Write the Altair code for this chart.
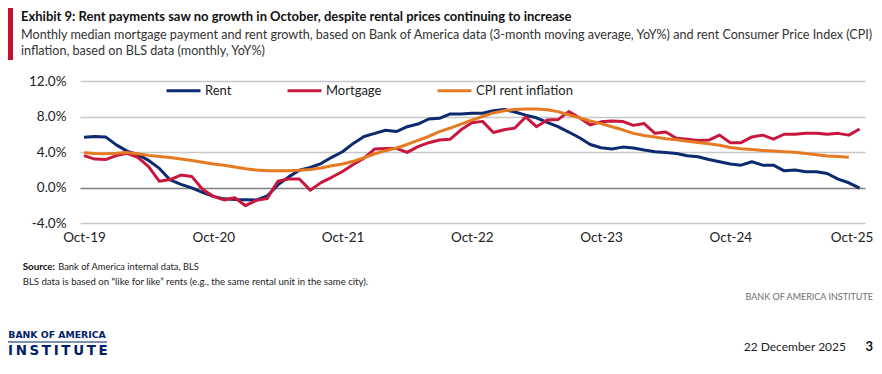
import altair as alt
import pandas as pd

# ---------------- data ----------------
series_names = ["Rent", "Mortgage", "CPI rent inflation"]
series_colors = ["#0B2A6F", "#C8173E", "#E67A22"]

x_tick_values = [0, 12, 24, 36, 48, 60, 72]
x_tick_labels = ["Oct-19", "Oct-20", "Oct-21", "Oct-22", "Oct-23", "Oct-24", "Oct-25"]
y_tick_values = [-4, 0, 4, 8, 12]

# months since Oct-2019 (0 = Oct-19 ... 72 = Oct-25)
rent = [5.65, 5.75, 5.7, 4.8, 4.1, 3.7, 3.05, 2.15, 0.85, 0.35,
        -0.05, -0.55, -1.0, -1.28, -1.35, -1.38, -1.42, -0.95, 0.3, 1.2,
        1.95, 2.25, 2.7, 3.4, 4.03, 4.97, 5.75, 6.1, 6.45, 6.3,
        6.85, 7.15, 7.72, 7.8, 8.29, 8.29, 8.36, 8.36, 8.66, 8.8,
        8.5, 8.15, 7.85, 7.35, 6.85, 6.25, 5.6, 4.85, 4.48, 4.33,
        4.55, 4.45, 4.22, 4.03, 3.95, 3.84, 3.58, 3.47, 3.16, 2.9,
        2.64, 2.52, 2.9, 2.52, 2.52, 1.88, 1.96, 1.77, 1.77, 1.58,
        0.94, 0.53, -0.08]
mortgage = [3.6, 3.2, 3.15, 3.6, 3.85, 3.4, 2.35, 0.7, 0.9, 1.4,
            1.25, -0.2, -1.0, -1.4, -1.15, -2.05, -1.45, -1.25, 0.7, 0.95,
            0.95, -0.3, 0.55, 1.15, 1.8, 2.6, 3.3, 4.35, 4.4, 4.4,
            3.95, 4.6, 5.05, 5.35, 5.45, 6.5, 7.3, 7.45, 6.2, 6.5,
            6.7, 7.95, 6.85, 7.6, 7.65, 8.55, 7.85, 7.05, 7.4, 7.5,
            7.45, 7.0, 7.2, 6.1, 6.25, 5.55, 5.45, 5.3, 5.35, 5.9,
            5.05, 5.05, 5.7, 5.9, 5.45, 6.0, 6.0, 6.1, 6.1, 6.0,
            6.1, 5.9, 6.6]
cpi_rent = [3.92, 3.82, 3.8, 3.85, 3.95, 3.8, 3.62, 3.5, 3.38, 3.22,
            3.05, 2.85, 2.65, 2.5, 2.3, 2.12, 1.98, 1.9, 1.88, 1.88,
            1.95, 2.03, 2.2, 2.45, 2.65, 2.95, 3.35, 3.8, 4.15, 4.45,
            4.85, 5.3, 5.75, 6.3, 6.7, 7.15, 7.6, 8.0, 8.4, 8.65,
            8.78, 8.85, 8.85, 8.75, 8.55, 8.2, 7.85, 7.5, 7.2, 6.85,
            6.5, 6.1, 5.85, 5.68, 5.5, 5.38, 5.22, 5.08, 4.92, 4.75,
            4.5, 4.37, 4.27, 4.18, 4.1, 4.04, 3.96, 3.83, 3.7, 3.55,
            3.48, 3.42]

title_text = "Exhibit 9: Rent payments saw no growth in October, despite rental prices continuing to increase"
subtitle_1 = ("Monthly median mortgage payment and rent growth, based on Bank of America data "
              "(3-month moving average, YoY%) and rent Consumer Price Index (CPI)")
subtitle_2 = "inflation, based on BLS data (monthly, YoY%)"
source_bold = "Source:"
source_rest = "Bank of America internal data, BLS"
note_text = "BLS data is based on \u201clike for like\u201d rents (e.g., the same rental unit in the same city)."
brand_right = "BANK OF AMERICA INSTITUTE"
logo_top = "BANK OF AMERICA"
logo_bottom = "I\u2009N\u2009S\u2009T\u2009I\u2009T\u2009U\u2009T\u2009E"
date_text = "22 December 2025"
page_text = "3"

# ---------------- table ----------------
rows = []
for name, vals in zip(series_names, [rent, mortgage, cpi_rent]):
    for i, v in enumerate(vals):
        rows.append({"m": i, "value": v, "series": name})
df = pd.DataFrame(rows)

NAVY = "#012169"
FONT = "Lato"

label_expr = "[" + ",".join("'%s'" % s for s in x_tick_labels) + "][floor(datum.value / 12)]"
last_tick = x_tick_values[-1]

lines = alt.Chart(df).mark_line(strokeWidth=3, strokeJoin="round").encode(
    x=alt.X("m:Q",
            scale=alt.Scale(domain=[-0.37, 72.5], nice=False, zero=False),
            axis=alt.Axis(values=x_tick_values, labelExpr=label_expr, title=None,
                          domain=False, ticks=False, grid=False,
                          labelFont=FONT, labelFontSize=13.5, labelColor="#222222",
                          labelPadding=7.5, labelFlush=False,
                          labelOffset=alt.condition("datum.value === %d" % last_tick,
                                                    alt.value(-8), alt.value(0)))),
    y=alt.Y("value:Q",
            scale=alt.Scale(domain=[-4, 12], nice=False, zero=False),
            axis=alt.Axis(values=y_tick_values, labelExpr="datum.value + '.0%'", title=None,
                          domain=False, ticks=False, grid=True,
                          gridColor=alt.condition("datum.value === 0", alt.value("#7f7f7f"), alt.value("#c8c8c8")),
                          gridWidth=1.5,
                          labelFont=FONT, labelFontSize=13.5, labelColor="#222222",
                          labelPadding=14)),
    color=alt.Color("series:N",
                    scale=alt.Scale(domain=series_names, range=series_colors),
                    sort=series_names,
                    legend=alt.Legend(orient="none", legendX=85, legendY=-9, direction="horizontal",
                                      title=None, symbolType="stroke", symbolStrokeWidth=3,
                                      symbolSize=1156, labelFont=FONT, labelFontSize=13,
                                      labelColor="#222222", labelOffset=3, columnPadding=49,
                                      padding=0)),
    order=alt.Order("m:Q"),
    detail="series:N",
)


def txt(text, x, y, size, weight="normal", color="#222222", font=FONT, align="left"):
    return alt.Chart(pd.DataFrame({"t": [text]})).mark_text(
        align=align, baseline="alphabetic", fontSize=size, fontWeight=weight,
        color=color, font=font).encode(text="t:N", x=alt.value(x), y=alt.value(y))


one = pd.DataFrame({"k": [1]})
red_bar = alt.Chart(one).mark_rect(color="#C8102E").encode(
    x=alt.value(-73), x2=alt.value(-67), y=alt.value(-77), y2=alt.value(-21))
logo_rule = alt.Chart(one).mark_rule(color=NAVY, strokeWidth=1).encode(
    x=alt.value(-72), x2=alt.value(27), y=alt.value(261))

layers = [
    red_bar,
    txt(title_text, -59, -60, 13, weight="bold", color="#111111"),
    txt(subtitle_1, -59, -42, 12.6, color="#333333"),
    txt(subtitle_2, -59, -26, 12.6, color="#333333"),
    lines,
    txt(source_bold, -57.3, 189, 9.8, weight="bold", color="#111111"),
    txt(source_rest, -21.7, 189, 9.3, color="#222222"),
    txt(note_text, -57.3, 203.5, 9.6, color="#222222"),
    txt(brand_right, 793, 218.5, 9, color="#6d6d6d", align="right"),
    txt(logo_top, -71.7, 256.7, 9.3, weight="bold", color=NAVY, font="DejaVu Sans"),
    logo_rule,
    txt(logo_bottom, -72, 274, 13.4, weight="bold", color=NAVY, font="DejaVu Sans"),
    txt(date_text, 766, 270, 12, color="#222222", align="right"),
    txt(page_text, 793, 270, 13, weight="bold", color="#111111", align="right"),
]

chart = alt.layer(*layers).properties(
    width=785, height=142,
    autosize=alt.AutoSizeParams(type="none"),
    padding={"left": 72, "top": 73, "right": 9, "bottom": 135},
    background="white",
).configure_view(stroke=None)

chart.save("out.html", embed_options={"renderer": "svg", "actions": False})
